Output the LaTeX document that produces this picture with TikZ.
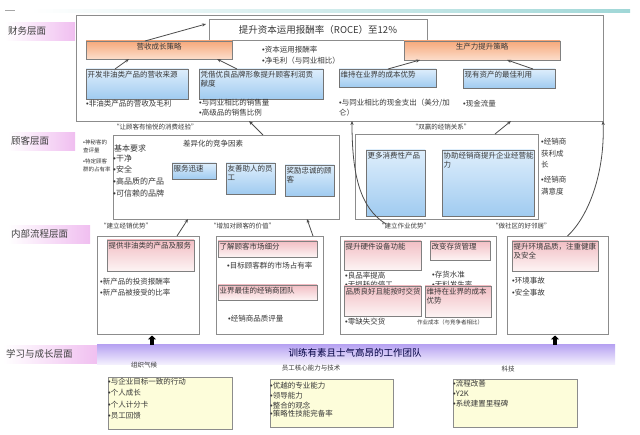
\documentclass[tikz,border=0pt]{standalone}
\usepackage{fontspec}
\setmainfont{Noto Sans CJK SC}
\newfontfamily\bulfont{Liberation Sans}
\newcommand\bul{{\bulfont •}}
\usetikzlibrary{arrows.meta,calc}
\definecolor{lblpink}{RGB}{240,190,240}
\definecolor{ortop}{RGB}{246,168,122}
\definecolor{orbot}{RGB}{252,222,204}
\definecolor{bltop}{RGB}{222,238,252}
\definecolor{blbot}{RGB}{160,203,240}
\definecolor{pktop}{RGB}{242,190,196}
\definecolor{pkbot}{RGB}{253,244,244}
\definecolor{ylw}{RGB}{253,253,218}
\definecolor{pptop}{RGB}{184,164,242}
\definecolor{ppbot}{RGB}{246,243,254}
\definecolor{tealc}{RGB}{160,215,215}
\newcommand\bx[7]{%
  \pgfmathsetmacro\bxw{#4-#2}\pgfmathsetmacro\bxh{#5-#3}%
  \node[#6,anchor=north west,minimum width=\bxw pt,minimum height=\bxh pt] (#1) at (#2,#3) {};%
  \node[intxt,anchor=north west] (#1t) at (#1.north west) {#7};}
\tikzset{
  tx/.style={font=\fontsize{7.5}{9.5}\selectfont, text=black!78, inner sep=0pt, align=left},
  intxt/.style={tx, inner sep=1.5pt},
  sm/.style={tx, font=\fontsize{5.5}{8}\selectfont},
  qt/.style={tx, font=\fontsize{6.5}{8}\selectfont},
  lbl/.style={left color=white, right color=lblpink, inner xsep=3pt, inner ysep=0pt,
    minimum height=18pt, align=left, anchor=north west, font=\fontsize{9.5}{11}\selectfont, text=black!75},
  frm/.style={draw=black!45, line width=0.8pt, fill=white, inner sep=0pt, outer sep=0pt},
  obox/.style={top color=ortop, bottom color=orbot, draw=black!50, line width=0.6pt, inner sep=0pt, outer sep=0pt},
  bbox/.style={top color=bltop, bottom color=blbot, draw=black!55, line width=0.6pt, inner sep=0pt, outer sep=0pt},
  pbox/.style={top color=pktop, bottom color=pkbot, draw=black!50, line width=0.6pt, inner sep=0pt, outer sep=0pt},
  ybox/.style={fill=ylw, draw=black!45, line width=0.7pt, inner sep=0pt, outer sep=0pt},
  barbox/.style={top color=pptop, bottom color=ppbot, draw=none, inner sep=0pt, outer sep=0pt},
  arr/.style={draw=black!70, line width=0.8pt, -{Stealth[length=4pt,width=3.2pt]}},
  fat/.style={draw=black, line width=3.2pt, -{Triangle[length=4pt,width=8pt]}}
}
\begin{document}
\begin{tikzpicture}[x=1pt,y=-1pt]
\useasboundingbox (0,0) rectangle (640,435);
% top decoration line
\shade[left color=white, right color=tealc] (30,10) rectangle (630,12.5);
\draw[black!35, line width=0.8pt] (5,10) -- (15,10);
% layer labels
\node[lbl, text width=64pt] (L1) at (5,22) {财务层面};
\node[lbl, text width=61pt] (L2) at (8,132) {顾客层面};
\node[lbl, text width=76pt] (L3) at (8,225) {内部流程层面};
\node[lbl, text width=90pt, inner xsep=3pt] (L4) at (3,345) {学习与成长层面};

% ---------------- finance ----------------
\bx{F}{76}{15}{603}{121}{frm}{}
\bx{T}{209}{19}{427}{40}{frm}{}
\node[tx, font=\fontsize{9.5}{11}\selectfont] (Tx) at (T.center) {提升资本运用报酬率（ROCE）至12\%};
\bx{O1}{86}{41}{232}{59}{obox}{}
\node[tx] (O1x) at ($(O1.north)+(0,6)$) {营收成长策略};
\bx{O2}{404}{41}{560}{60}{obox}{}
\node[tx] (O2x) at ($(O2.north)+(0,6)$) {生产力提升策略};
\node[tx, anchor=west] (f1) at (262,50) {\bul 资本运用报酬率};
\node[tx, anchor=west] (f2) at (262,61) {\bul 净毛利（与同业相比）};
\bx{B1}{86}{69}{188}{99}{bbox}{开发非油类产品的营收来源}
\bx{B2}{199}{69}{323}{99}{bbox}{凭借优良品牌形象提升顾客利润贡\\献度}
\bx{B3}{339}{69}{436}{87}{bbox}{维持在业界的成本优势}
\bx{B4}{463}{69}{555}{88}{bbox}{现有资产的最佳利用}
\node[tx, anchor=west] (f3) at (86,104) {\bul 非油类产品的营收及毛利};
\node[tx, anchor=west] (f4) at (199,103) {\bul 与同业相比的销售量};
\node[tx, anchor=west] (f5) at (199,113) {\bul 高级品的销售比例};
\node[tx, anchor=west] (f6) at (339,103) {\bul 与同业相比的现金支出（美分/加};
\node[tx, anchor=west] (f7) at (339,113) {仑）};
\node[tx, anchor=west] (f8) at (463,104) {\bul 现金流量};
\draw[arr] ($(O1.north west)+(59,0)$) -- ($(T.north west)+(-3,5)$);
\draw[arr] ($(B1.north west)+(29,0)$) -- ($(O1.south west)+(43,0)$);
\draw[arr] ($(B2.north west)+(38,0)$) -- ($(O1.south west)+(131,0)$);
\draw[arr] ($(B3.north west)+(49,0)$) -- ($(O2.south west)+(16,0)$);
\draw[arr] ($(B4.north west)+(70,0)$) -- ($(O2.south west)+(103,0)$);

% ---------------- customer ----------------
\node[qt, anchor=west] (q1) at (113,127) {“让顾客有愉悦的消费经验”};
\node[qt, anchor=center] (q2) at (441,127) {“双赢的经销关系”};
\bx{CL}{113}{135}{339}{219}{frm}{}
\bx{CR}{355}{134}{538}{219}{frm}{}
\node[sm, anchor=north west] (s1) at (83,140) {\bul 神秘客的\\查评量};
\node[sm, anchor=north west] (s2) at (83,159) {\bul 特定顾客\\群的占有率};
\node[tx, anchor=west, font=\fontsize{8}{10}\selectfont] (k0) at (114,148) {基本要求};
\node[tx, anchor=west, font=\fontsize{8}{10}\selectfont] (k1) at (113,158) {\bul 干净};
\node[tx, anchor=west, font=\fontsize{8}{10}\selectfont] (k2) at (113,169) {\bul 安全};
\node[tx, anchor=west, font=\fontsize{8}{10}\selectfont] (k3) at (113,181) {\bul 高品质的产品};
\node[tx, anchor=west, font=\fontsize{8}{10}\selectfont] (k4) at (113,193) {\bul 可信赖的品牌};
\node[tx] (k5) at (213,144) {差异化的竞争因素};
\bx{C1}{172}{163}{216}{179}{bbox}{服务迅速}
\bx{C2}{226}{163}{275}{194}{bbox}{友善助人的员\\工}
\bx{C3}{285}{165}{334}{196}{bbox}{奖励忠诚的顾\\客}
\bx{C4}{366}{150}{425}{216}{bbox}{更多消费性产品}
\bx{C5}{442}{150}{534}{216}{bbox}{协助经销商提升企业经营能\\力}
\node[tx, anchor=north west, font=\fontsize{7.5}{11.5}\selectfont] (r1) at (541,138) {\bul 经销商\\获利成\\长};
\node[tx, anchor=north west, font=\fontsize{7.5}{11.5}\selectfont] (r2) at (541,176) {\bul 经销商\\满意度};
\draw[arr] ($(CL.north west)+(150,0)$) -- ($(F.south west)+(173,0)$);
\draw[arr] ($(CR.north west)+(140,0)$) -- ($(F.south west)+(435,0)$);

% ---------------- internal process ----------------
\node[qt, anchor=west] (q3) at (100,226) {“建立经销优势”};
\node[qt, anchor=west] (q4) at (210,226) {“增加对顾客的价值”};
\node[qt, anchor=west] (q5) at (378,226) {“建立作业优势”};
\node[qt, anchor=west] (q6) at (492,226) {“做社区的好邻居”};
\bx{I1}{97}{236}{199}{334}{frm}{}
\bx{I2}{216}{236}{323}{334}{frm}{}
\bx{I3}{340}{236}{496}{334}{frm}{}
\bx{I4}{507}{236}{608}{334}{frm}{}
\bx{P1}{107}{240}{194}{271}{pbox}{提供非油类的产品及服务}
\node[tx, anchor=west] (i1) at (100,282) {\bul 新产品的投资报酬率};
\node[tx, anchor=west] (i2) at (100,293) {\bul 新产品被接受的比率};
\bx{P2}{218}{241}{317}{257}{pbox}{了解顾客市场细分}
\node[tx, anchor=west] (i3) at (227,266) {\bul 目标顾客群的市场占有率};
\bx{P3}{218}{285}{317}{300}{pbox}{业界最佳的经销商团队}
\node[tx, anchor=west] (i4) at (228,319) {\bul 经销商品质评量};
\node[tx, anchor=west] (i5) at (345,276) {\bul 良品率提高};
\node[tx, anchor=west] (i6) at (345,284.5) {\bul 无损耗的停工};
\node[tx, anchor=west] (i7) at (432,275) {\bul 存货水准};
\node[tx, anchor=west] (i8) at (432,284.5) {\bul 无料发生率};
\bx{P4}{344}{241}{421}{270}{pbox}{提升硬件设备功能}
\bx{P5}{344}{286}{421}{316}{pbox}{品质良好且能按时交货}
\bx{P6}{430}{241}{490}{260}{pbox}{改变存货管理}
\bx{P7}{425}{286}{491}{317}{pbox}{维持在业界的成本\\优势}
\node[tx, anchor=west] (i9) at (345,322) {\bul 零缺失交货};
\node[sm] (i10) at (450,322) {作业成本（与竞争者相比）};
\bx{P8}{512}{241}{598}{271}{pbox}{提升环境品质，注重健康\\及安全}
\node[tx, anchor=west] (i11) at (512,281) {\bul 环境事故};
\node[tx, anchor=west] (i12) at (512,293) {\bul 安全事故};
\draw[arr] ($(I1.north west)+(80,0)$) -- ($(CL.south west)+(75,0)$);
\draw[arr] ($(I2.north west)+(97,0)$) -- ($(CL.south west)+(194,0)$);
\coordinate (cvA) at (386,224);
\draw[arr] (cvA) .. controls (360,208) and (352,175) .. ($(F.south west)+(276,0)$);
\draw[arr] ($(I4.north)+(10,0)$) .. controls (590,215) and (605,170) .. (F.south east);

% ---------------- learning & growth ----------------
\bx{LB}{97}{345}{615}{365}{barbox}{}
\node[tx, font=\fontsize{9.5}{11}\selectfont, text=black!75!blue] (LBx) at (355,353) {训练有素且士气高昂的工作团队};
\draw[fat] ($(LB.north west)+(55,0)$) -- ($(I1.south west)+(55,1.5)$);
\draw[fat] ($(LB.north west)+(458,0)$) -- ($(I4.south west)+(48,1.5)$);
\node[qt] (g1) at (144,365) {组织气候};
\node[qt] (g2) at (311,368) {员工核心能力与技术};
\node[qt] (g3) at (508,369) {科技};
\bx{Y1}{108}{377}{232}{429}{ybox}{}
\node[tx, anchor=west] (y1) at (108,382) {\bul 与企业目标一致的行动};
\node[tx, anchor=west] (y2) at (108,392.5) {\bul 个人成长};
\node[tx, anchor=west] (y3) at (108,405) {\bul 个人计分卡};
\node[tx, anchor=west] (y4) at (108,416) {\bul 员工回馈};
\bx{Y2}{270}{379}{393}{427}{ybox}{}
\node[tx, anchor=west] (y5) at (270,386) {\bul 优越的专业能力};
\node[tx, anchor=west] (y6) at (270,396) {\bul 领导能力};
\node[tx, anchor=west] (y7) at (270,405.5) {\bul 整合的观念};
\node[tx, anchor=west] (y8) at (270,414) {\bul 策略性技能完备率};
\bx{Y3}{453}{379}{577}{427}{ybox}{}
\node[tx, anchor=west] (y9) at (453,383.5) {\bul 流程改善};
\node[tx, anchor=west] (y10) at (453,394) {\bul Y2K};
\node[tx, anchor=west] (y11) at (453,404) {\bul 系统建置里程碑};
\end{tikzpicture}
\end{document}
